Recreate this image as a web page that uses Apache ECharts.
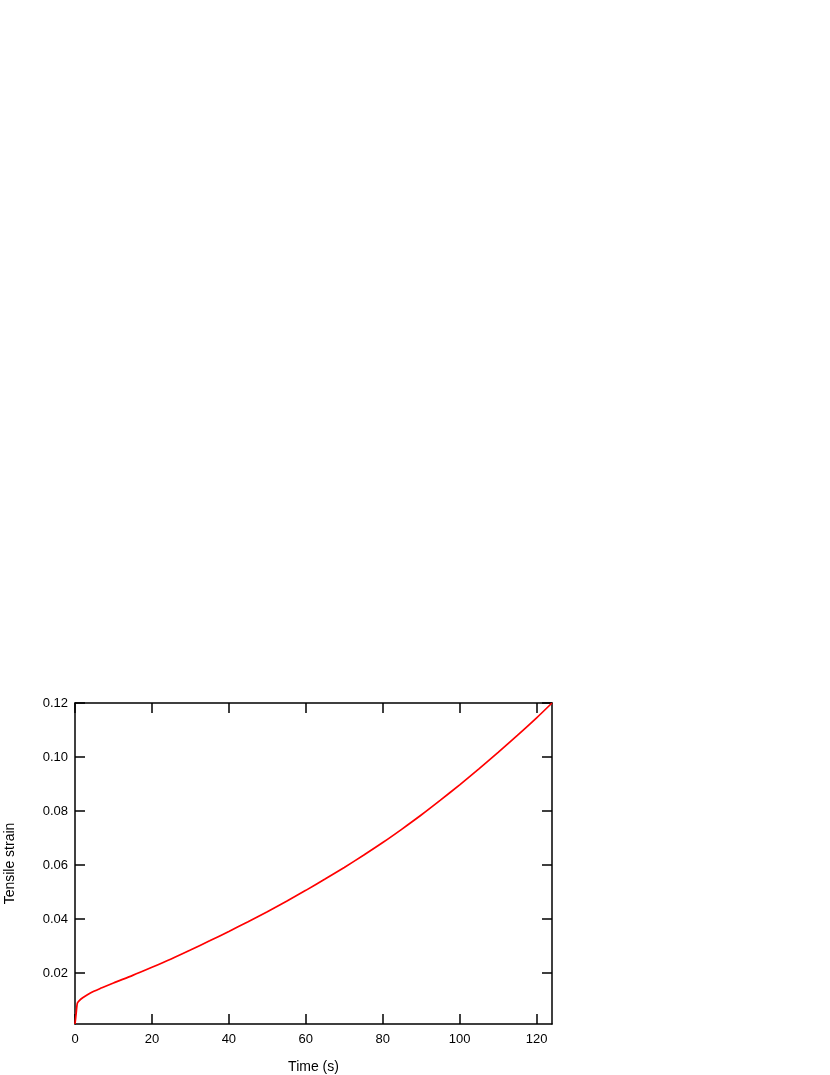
<!DOCTYPE html>
<html>
<head>
<meta charset="utf-8">
<script src="https://cdn.jsdelivr.net/npm/echarts@6/dist/echarts.min.js"></script>
<style>
html,body{margin:0;padding:0;background:#fff;}
#chart{width:830px;height:1075px;}
</style>
</head>
<body>
<div id="chart"></div>
<script>
var timeValues = [0, 0.3, 0.6, 1, 2, 4, 7, 10, 15, 20, 25, 30, 35, 40, 45, 50, 55, 60, 65, 70, 75, 80, 85, 90, 95, 100, 105, 110, 115, 120, 124];
var strainValues = [0.0011, 0.005, 0.0088, 0.0096, 0.0108, 0.0126, 0.0145, 0.0163, 0.0191, 0.0221, 0.0252, 0.0285, 0.0319, 0.0354, 0.039, 0.0427, 0.0466, 0.0506, 0.0548, 0.0591, 0.0636, 0.0683, 0.0733, 0.0785, 0.084, 0.0897, 0.0956, 0.1017, 0.108, 0.1145, 0.12];
var yTickValues = [0.02, 0.04, 0.06, 0.08, 0.10, 0.12];
var xTickValues = [0, 20, 40, 60, 80, 100, 120];

var data = timeValues.map(function (t, i) { return [t, strainValues[i]]; });
var font = 'Liberation Sans, Arial, sans-serif';
function axisLine() { return { show: true, onZero: false, lineStyle: { color: '#000', width: 1.5 } }; }
function tick(vals) { return { show: true, inside: true, length: 10, customValues: vals, lineStyle: { color: '#000', width: 1.5 } }; }

var chart = echarts.init(document.getElementById('chart'));
chart.setOption({
  animation: false,
  backgroundColor: '#fff',
  grid: { left: 75, right: 278, top: 703, bottom: 51, containLabel: false, outerBoundsMode: 'none' },
  xAxis: [{
    type: 'value', min: 0, max: 124, position: 'bottom',
    name: 'Time (s)', nameLocation: 'middle', nameGap: 36,
    nameTextStyle: { color: '#000', fontFamily: font, fontSize: 14 },
    axisLine: axisLine(),
    axisTick: tick(xTickValues),
    axisLabel: { customValues: xTickValues, color: '#000', fontFamily: font, fontSize: 13, margin: 9, formatter: function (v) { return String(v); } },
    splitLine: { show: false }
  }, {
    type: 'value', min: 0, max: 124, position: 'top',
    axisLine: axisLine(),
    axisTick: tick(xTickValues),
    axisLabel: { show: false },
    splitLine: { show: false }
  }],
  yAxis: [{
    type: 'value', min: 0.0011, max: 0.12, position: 'left',
    name: 'Tensile strain', nameLocation: 'middle', nameGap: 58,
    nameTextStyle: { color: '#000', fontFamily: font, fontSize: 14 },
    axisLine: axisLine(),
    axisTick: tick(yTickValues),
    axisLabel: { customValues: yTickValues, color: '#000', fontFamily: font, fontSize: 13, margin: 7, formatter: function (v) { return v.toFixed(2); } },
    splitLine: { show: false }
  }, {
    type: 'value', min: 0.0011, max: 0.12, position: 'right',
    axisLine: axisLine(),
    axisTick: tick(yTickValues),
    axisLabel: { show: false },
    splitLine: { show: false }
  }],
  series: [{
    type: 'line', xAxisIndex: 0, yAxisIndex: 0,
    data: data, smooth: 0.25, showSymbol: false,
    lineStyle: { color: '#ff0000', width: 1.7 }
  }]
});
</script>
</body>
</html>
